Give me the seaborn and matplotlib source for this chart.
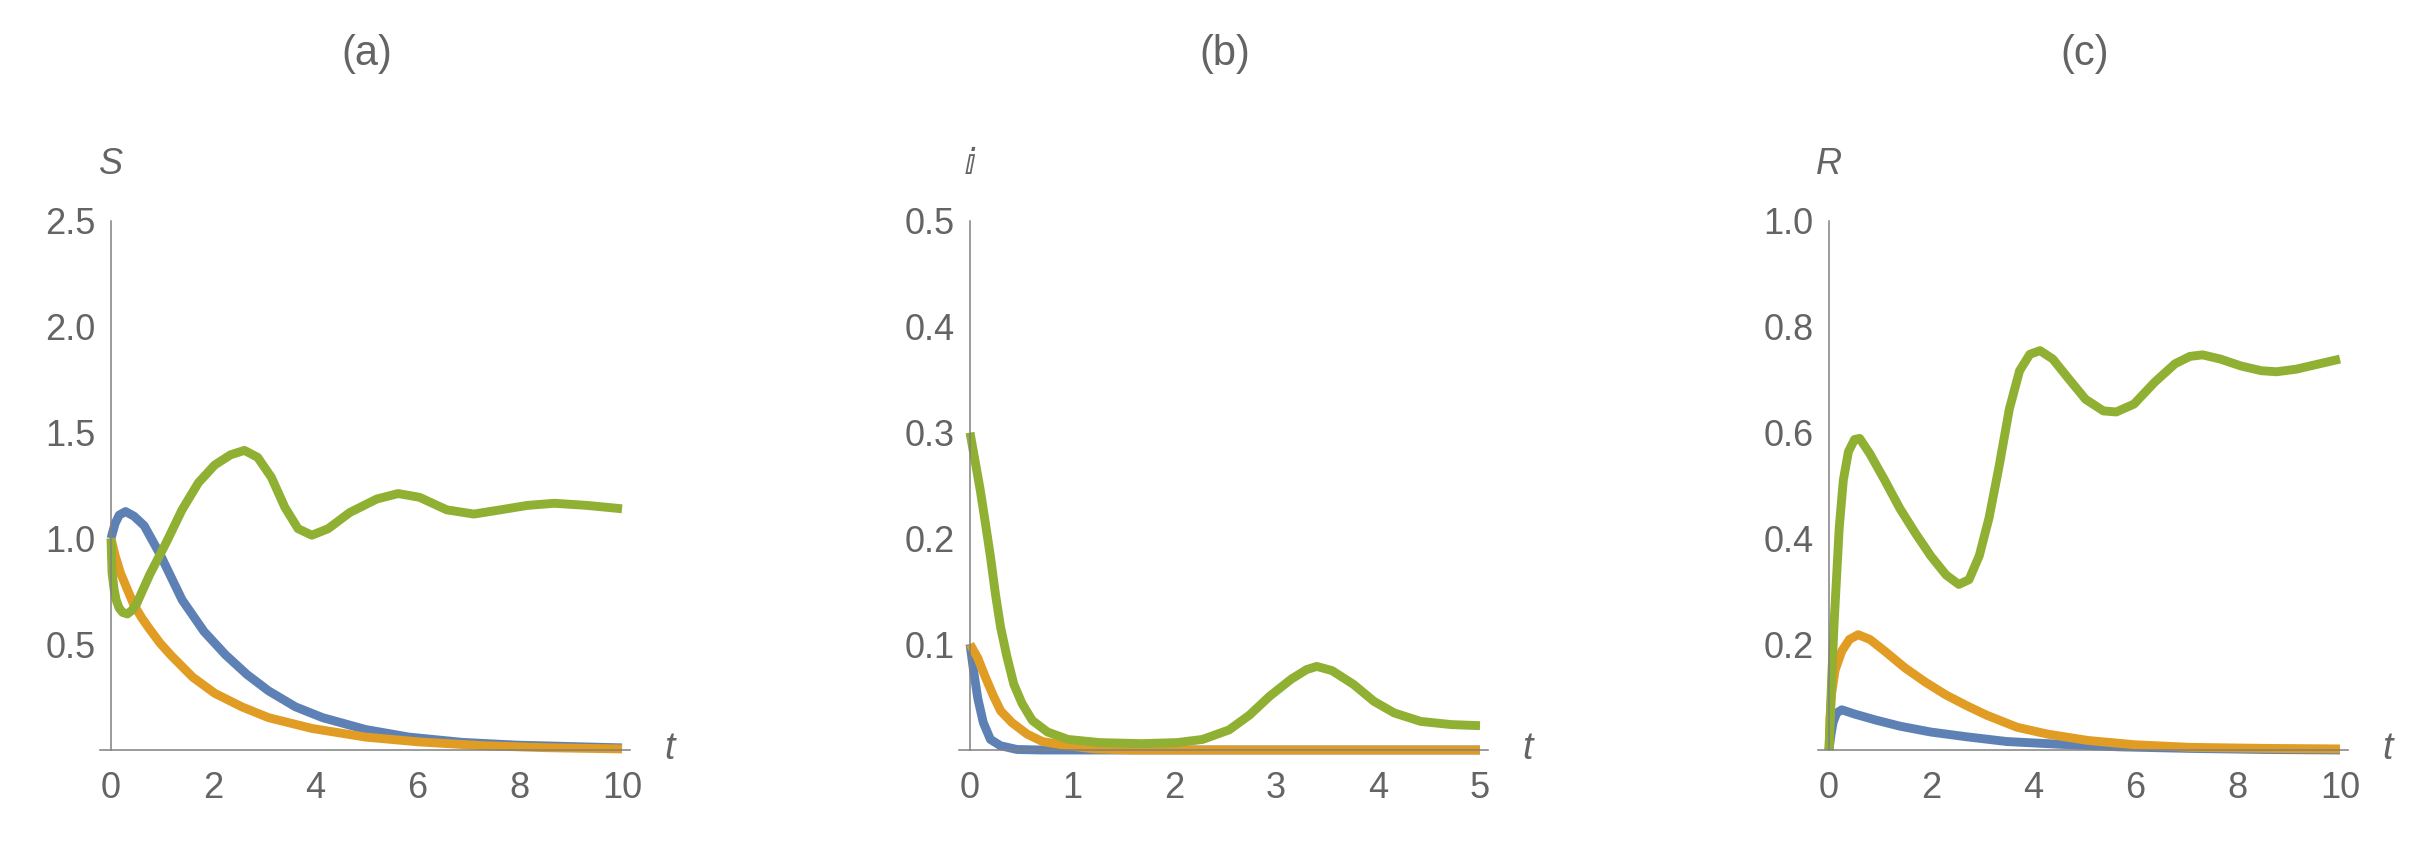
import numpy as np
import pandas as pd
import seaborn as sns
import matplotlib.pyplot as plt
from matplotlib.ticker import MultipleLocator, FixedLocator, FormatStrFormatter

# ---- data ----
# (a) S(t)
s_blue_t = [0, 0.08, 0.16, 0.285, 0.45, 0.65, 0.97, 1.39, 1.82, 2.24, 2.66, 3.08, 3.61, 4.14, 4.98, 5.83, 6.88, 7.94, 10]
s_blue = [1.0, 1.07, 1.11, 1.127, 1.105, 1.06, 0.92, 0.71, 0.56, 0.45, 0.357, 0.28, 0.204, 0.153, 0.097, 0.061, 0.036, 0.023, 0.01]
s_orange_t = [0, 0.08, 0.18, 0.3, 0.44, 0.6, 0.76, 0.96, 1.18, 1.6, 2.03, 2.56, 3.08, 3.93, 4.98, 6.04, 7.3, 8.5, 10]
s_orange = [1.0, 0.92, 0.84, 0.77, 0.69, 0.625, 0.57, 0.505, 0.446, 0.344, 0.268, 0.204, 0.153, 0.102, 0.061, 0.038, 0.02, 0.011, 0.005]
s_green_t = [0, 0.02, 0.06, 0.1, 0.16, 0.23, 0.32, 0.41, 0.5, 0.62, 0.76, 0.92, 1.08, 1.39, 1.71, 2.03, 2.34, 2.61, 2.87, 3.14, 3.40, 3.66, 3.93, 4.25, 4.67, 5.2, 5.62, 6.04, 6.57, 7.1, 7.62, 8.15, 8.68, 9.31, 10]
s_green = [1.0, 0.84, 0.76, 0.71, 0.67, 0.65, 0.643, 0.66, 0.69, 0.755, 0.83, 0.905, 0.98, 1.135, 1.263, 1.347, 1.395, 1.416, 1.383, 1.288, 1.148, 1.046, 1.015, 1.046, 1.122, 1.186, 1.212, 1.194, 1.135, 1.115, 1.135, 1.156, 1.166, 1.156, 1.14]

# (b) i(t)
i_blue_t = [0, 0.035, 0.076, 0.13, 0.2, 0.3, 0.46, 0.7, 5]
i_blue = [0.1, 0.075, 0.049, 0.026, 0.010, 0.004, 0.0005, 0, 0]
i_orange_t = [0, 0.076, 0.15, 0.23, 0.3, 0.41, 0.56, 0.71, 0.96, 1.22, 1.6, 5]
i_orange = [0.1, 0.087, 0.069, 0.051, 0.037, 0.026, 0.015, 0.008, 0.004, 0.001, 0, 0]
i_green_t = [0, 0.05, 0.1, 0.15, 0.2, 0.25, 0.3, 0.36, 0.43, 0.51, 0.61, 0.76, 0.96, 1.27, 1.68, 2.03, 2.28, 2.54, 2.74, 2.94, 3.15, 3.3, 3.4, 3.55, 3.76, 3.96, 4.16, 4.42, 4.72, 5.0]
i_green = [0.3, 0.273, 0.246, 0.215, 0.183, 0.147, 0.116, 0.089, 0.062, 0.044, 0.028, 0.017, 0.010, 0.007, 0.006, 0.007, 0.010, 0.019, 0.033, 0.051, 0.067, 0.076, 0.079, 0.075, 0.062, 0.046, 0.035, 0.027, 0.024, 0.023]

# (c) R(t)
r_blue_t = [0, 0.04, 0.08, 0.15, 0.25, 0.5, 0.9, 1.39, 1.99, 2.69, 3.48, 4.48, 5.67, 7.06, 8.5, 10]
r_blue = [0, 0.03, 0.052, 0.07, 0.076, 0.068, 0.057, 0.045, 0.034, 0.025, 0.016, 0.011, 0.006, 0.003, 0.001, 0.0]
r_orange_t = [0, 0.02, 0.05, 0.12, 0.25, 0.4, 0.57, 0.8, 1.09, 1.49, 1.89, 2.29, 2.69, 3.08, 3.68, 4.28, 5.07, 5.97, 7.06, 8.56, 10]
r_orange = [0, 0.06, 0.106, 0.151, 0.187, 0.209, 0.218, 0.209, 0.187, 0.155, 0.128, 0.104, 0.084, 0.066, 0.043, 0.030, 0.018, 0.010, 0.005, 0.003, 0.002]
r_green_t = [0, 0.05, 0.1, 0.15, 0.2, 0.28, 0.38, 0.5, 0.6, 0.8, 1.09, 1.39, 1.69, 1.99, 2.29, 2.54, 2.74, 2.94, 3.13, 3.33, 3.53, 3.73, 3.93, 4.13, 4.38, 4.68, 5.02, 5.37, 5.62, 5.97, 6.37, 6.77, 7.06, 7.31, 7.66, 8.06, 8.46, 8.76, 9.15, 9.55, 10]
r_green = [0, 0.13, 0.24, 0.33, 0.42, 0.51, 0.564, 0.587, 0.589, 0.56, 0.51, 0.456, 0.41, 0.367, 0.331, 0.313, 0.322, 0.367, 0.438, 0.537, 0.645, 0.717, 0.748, 0.755, 0.739, 0.703, 0.663, 0.641, 0.639, 0.654, 0.695, 0.730, 0.744, 0.747, 0.739, 0.726, 0.717, 0.715, 0.72, 0.729, 0.739]

titles = ["(a)", "(b)", "(c)"]
ylabels = ["S", "\u2148", "R"]

# ---- style ----
sns.set_theme(style="white")
plt.rcParams['font.family'] = ['Liberation Sans', 'DejaVu Sans']
GRAY = "#646464"
AXC = "#808080"
COLORS = ["#5E81B5", "#E19C24", "#8FB032"]
W, H = 2430, 846

fig = plt.figure(figsize=(W / 100, H / 100), dpi=100)

# pixel layout: data 0 -> x0, data xmax -> x1
panels = [
    dict(x0=111, x1=622, xmax=10, ymax=2.5, xmaj=2, xmin=0.5, yticks=[0.5, 1.0, 1.5, 2.0, 2.5], ymin=0.1,
         series=[(s_blue_t, s_blue), (s_orange_t, s_orange), (s_green_t, s_green)]),
    dict(x0=970, x1=1480, xmax=5, ymax=0.5, xmaj=1, xmin=0.2, yticks=[0.1, 0.2, 0.3, 0.4, 0.5], ymin=0.02,
         series=[(i_blue_t, i_blue), (i_orange_t, i_orange), (i_green_t, i_green)]),
    dict(x0=1829, x1=2340, xmax=10, ymax=1.0, xmaj=2, xmin=0.5, yticks=[0.2, 0.4, 0.6, 0.8, 1.0], ymin=0.05,
         series=[(r_blue_t, r_blue), (r_orange_t, r_orange), (r_green_t, r_green)]),
]
y_top, y_bot = 221, 750
pad_l, pad_r = 11, 8

for k, p in enumerate(panels):
    ppu = (p["x1"] - p["x0"]) / p["xmax"]
    left_px = p["x0"] - pad_l
    right_px = p["x1"] + pad_r
    ax = fig.add_axes([left_px / W, (H - y_bot) / H, (right_px - left_px) / W, (y_bot - y_top) / H])

    for (t, v), c in zip(p["series"], COLORS):
        df = pd.DataFrame({"t": t, "v": v})
        sns.lineplot(data=df, x="t", y="v", ax=ax, color=c, lw=6.4, estimator=None,
                     clip_on=False, solid_capstyle="butt", solid_joinstyle="round")

    for s in ["top", "right"]:
        ax.spines[s].set_visible(False)
    ax.spines["left"].set_position(("data", 0))
    ax.spines["left"].set_bounds(0, p["ymax"])
    ax.spines["bottom"].set_position(("data", 0))
    for s in ["left", "bottom"]:
        ax.spines[s].set_color(AXC)
        ax.spines[s].set_linewidth(1.1)

    ax.xaxis.set_major_locator(MultipleLocator(p["xmaj"]))
    ax.xaxis.set_minor_locator(MultipleLocator(p["xmin"]))
    ax.xaxis.set_major_formatter(FormatStrFormatter("%d"))
    ax.yaxis.set_major_locator(FixedLocator(p["yticks"]))
    ax.yaxis.set_minor_locator(MultipleLocator(p["ymin"]))
    ax.yaxis.set_major_formatter(FormatStrFormatter("%.1f"))
    ax.set_xlim(-pad_l / ppu, p["xmax"] + pad_r / ppu)
    ax.set_ylim(0, p["ymax"])

    ax.tick_params(which="both", direction="in", color=AXC, width=1.0, labelcolor=GRAY, labelsize=26)
    ax.tick_params(which="major", length=5.4)
    ax.tick_params(which="minor", length=3.4)
    ax.tick_params(axis="x", which="both", pad=15)
    ax.tick_params(axis="y", which="both", pad=11)
    ax.set_xlabel("")
    ax.set_ylabel("")

    ax.annotate(ylabels[k], xy=(0, p["ymax"]), xytext=(0, 40.5), textcoords="offset points",
                ha="center", va="center", fontsize=26, color=GRAY, style="italic",
                family=['Liberation Sans', 'DejaVu Sans'])
    ax.annotate("t", xy=(p["xmax"], 0), xytext=(34, 1), textcoords="offset points",
                ha="center", va="center", fontsize=27, color=GRAY, style="italic")
    fig.text((p["x0"] + p["x1"]) / 2 / W, 1 - 54 / H, titles[k], ha="center", va="center",
             fontsize=30, color=GRAY)

fig.savefig("out.png", dpi=100, facecolor="white")
